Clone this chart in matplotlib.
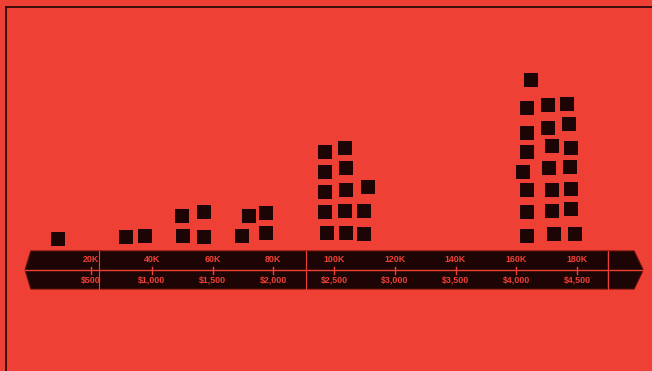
import matplotlib
matplotlib.use("Agg")
import matplotlib.pyplot as plt
from matplotlib.patches import Polygon
from matplotlib.lines import Line2D

# salary in K (x) and stacked height above the axis line (y, px units)
sq_x = [9.1,
        31.5, 37.8,
        50.0, 50.3, 57.2, 57.2,
        72.0, 69.7, 77.6, 77.6,
        97.0, 97.0, 97.0, 97.0, 97.7,
        103.6, 104.0, 104.0, 103.6, 104.0,
        111.2, 109.9, 109.9,
        164.9, 163.5, 170.5, 176.7, 163.5, 170.5, 177.4, 163.5, 171.8, 178.0,
        162.2, 170.8, 177.7, 163.5, 171.8, 178.0, 163.5, 171.8, 178.0,
        163.5, 172.4, 179.4]
sq_y = [31,
        33, 34,
        54, 34, 58, 33,
        54, 34, 57, 37,
        118, 98, 78, 58, 37,
        122, 102, 80, 59, 37,
        83, 59, 36,
        190, 162, 165, 166, 137, 142, 146, 118, 124, 122,
        98, 102, 103, 80, 80, 81, 58, 59, 61,
        34, 36, 36]

tick_k = [20, 40, 60, 80, 100, 120, 140, 160, 180]
top_labels = ["20K", "40K", "60K", "80K", "100K", "120K", "140K", "160K", "180K"]
bottom_labels = ["$500", "$1,000", "$1,500", "$2,000", "$2,500",
                 "$3,000", "$3,500", "$4,000", "$4,500"]

RED = "#EF4036"
DARK = "#1E0505"

fig = plt.figure(figsize=(6.52, 3.71), dpi=100)
fig.patch.set_facecolor(RED)
ax = fig.add_axes([0, 0, 1, 1])
ax.set_facecolor("none")
ax.axis("off")

# pixel -> data: x_px = 30.25 + 3.0375*K, y_data = 270 - y_px
ax.set_xlim((0 - 30.25) / 3.0375, (652 - 30.25) / 3.0375)
ax.set_ylim(270 - 371, 270)

# axis band
h = 19
band = Polygon([(-1.7, 0), (0.2, h), (190.2, h), (190.2, -h), (0.2, -h)],
               closed=True, facecolor=DARK, edgecolor="#5a0d08", lw=0.8, zorder=1)
ax.add_patch(band)
cap = Polygon([(190.2, h), (198.8, h), (201.8, 0), (198.8, -h), (190.2, -h)],
              closed=True, facecolor=DARK, edgecolor="#5a0d08", lw=0.8, zorder=1)
ax.add_patch(cap)
ax.plot([-1.7, 201.8], [0, 0], color=RED, lw=1.0, zorder=2)
for sx in [22.6, 90.8, 190.2]:
    ax.plot([sx, sx], [h, -h], color=RED, lw=0.8, zorder=2)

for k, top, bot in zip(tick_k, top_labels, bottom_labels):
    ax.plot([k, k], [3.5, -3.5], color=RED, lw=1.0, zorder=2)
    ax.text(k, 10, top, ha="center", va="center", color=RED, fontsize=6.4,
            fontweight="bold", family="Liberation Sans", zorder=3)
    ax.text(k, -10, bot, ha="center", va="center", color=RED, fontsize=6.4,
            fontweight="bold", family="Liberation Sans", zorder=3)

ax.scatter(sq_x, sq_y, marker="s", s=101, color=DARK, linewidths=0, zorder=3)

# frame lines at top and left
fig.add_artist(Line2D([5.5 / 652, 1], [1 - 6.5 / 371, 1 - 6.5 / 371],
                      color=DARK, lw=1.2, transform=fig.transFigure))
fig.add_artist(Line2D([5.5 / 652, 5.5 / 652], [0, 1 - 6.5 / 371],
                      color=DARK, lw=1.2, transform=fig.transFigure))

fig.savefig("out.png", dpi=100, facecolor=RED)
